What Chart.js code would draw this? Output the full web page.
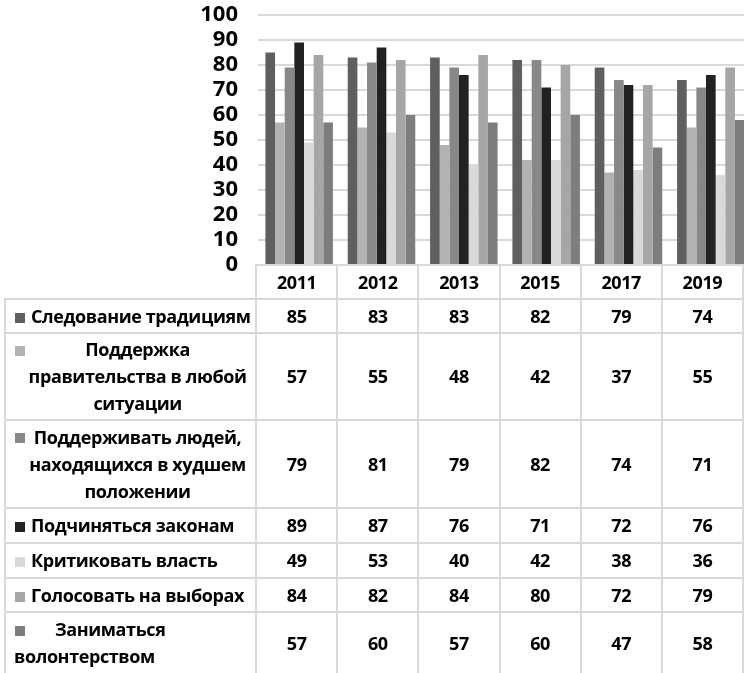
<!DOCTYPE html>
<html>
<head>
<meta charset="utf-8">
<script src="https://cdn.jsdelivr.net/npm/chart.js@4"></script>
<style>
  html, body { margin: 0; padding: 0; background: #fff; overflow: hidden; width: 744px; height: 673px; }
  #wrap { position: relative; width: 744px; height: 673px; overflow: hidden; }
  #chart-main { position: absolute; left: 0; top: -16px; }
  #data-table {
    position: absolute; left: 4px; top: 264px;
    border-collapse: collapse; table-layout: fixed;
    font-family: "Open Sans", sans-serif; font-weight: 700; font-size: 18px; color: #000;
    letter-spacing: -0.4px;
  }
  #data-table td { border: 2px solid #d9d9d9; text-align: center; padding: 0; line-height: 27px; }
  #data-table td.blank { border: none; border-bottom: 2px solid #d9d9d9; }
  #data-table td.label { position: relative; padding: 0 4px 0 8px; }
  #data-table td.label.left { text-align: left; }
  #data-table td.label.center { padding-left: 18px; }
  .swatch { display: inline-block; width: 10px; height: 10px; margin-right: 6px; margin-left: 1px; vertical-align: 0px; }
  .swatch.abs { position: absolute; left: 9px; top: 12px; margin: 0; }
  .indent { display: inline-block; width: 24px; }
</style>
</head>
<body>
<div id="wrap">
  <canvas id="chart-main" width="752" height="312"></canvas>
  <table id="data-table"></table>
</div>
<script>
const years = ["2011", "2012", "2013", "2015", "2017", "2019"];
const seriesNames = [
  "Следование традициям",
  "Поддержка правительства в любой ситуации",
  "Поддерживать людей, находящихся в худшем положении",
  "Подчиняться законам",
  "Критиковать власть",
  "Голосовать на выборах",
  "Заниматься волонтерством",
];
const traditions = [85, 83, 83, 82, 79, 74];
const govSupport = [57, 55, 48, 42, 37, 55];
const helpPeople = [79, 81, 79, 82, 74, 71];
const obeyLaws = [89, 87, 76, 71, 72, 76];
const criticize = [49, 53, 40, 42, 38, 36];
const vote = [84, 82, 84, 80, 72, 79];
const volunteer = [57, 60, 57, 60, 47, 58];
const seriesValues = [traditions, govSupport, helpPeople, obeyLaws, criticize, vote, volunteer];
const seriesColors = ["#5f5f5f", "#b2b2b2", "#888888", "#222222", "#d9d9d9", "#a6a6a6", "#7d7d7d"];
const yTicks = [0, 10, 20, 30, 40, 50, 60, 70, 80, 90, 100];

// how each legend label wraps inside the table
const labelLines = [
  ["Следование традициям"],
  ["Поддержка", "правительства в любой", "ситуации"],
  ["Поддерживать людей,", "находящихся в худшем", "положении"],
  ["Подчиняться законам"],
  ["Критиковать власть"],
  ["Голосовать на выборах"],
  ["Заниматься", "волонтерством"],
];
const rowHeights = [34, 87, 88, 35, 35, 34, 62];
const labelAlign = ["left", "center", "center", "left", "left", "left", "left"];

const mainChart = new Chart(document.getElementById("chart-main"), {
  type: "bar",
  data: {
    labels: years,
    datasets: seriesNames.map((name, i) => ({
      label: name,
      data: seriesValues[i],
      backgroundColor: seriesColors[i],
      borderWidth: 0,
      categoryPercentage: 0.82,
      barPercentage: 1,
    })),
  },
  options: {
    responsive: false,
    animation: false,
    layout: { padding: 0 },
    plugins: { legend: { display: false }, tooltip: { enabled: false } },
    scales: {
      x: { display: false, offset: true },
      y: {
        min: 0,
        max: 100,
        afterFit: (s) => { s.width = 258; },
        afterBuildTicks: (s) => { s.ticks = yTicks.map((v) => ({ value: v })); },
        border: { display: false },
        grid: { color: "#d9d9d9", lineWidth: 2, drawTicks: false },
        ticks: {
          color: "#000",
          padding: 20,
          font: { family: "Open Sans", weight: "bold", size: 22, lineHeight: 1 },
        },
      },
    },
  },
});

function renderTable() {
  const table = document.getElementById("data-table");
  let html = '<colgroup><col style="width:254px">' + years.map(() => '<col style="width:82.4px">').join("") + "</colgroup>";
  html += '<tr style="height:34px"><td class="blank"></td>' + years.map((y) => `<td>${y}</td>`).join("") + "</tr>";
  seriesNames.forEach((name, i) => {
    const align = labelAlign[i];
    let label;
    if (align === "center") {
      label = `<span class="swatch abs" style="background:${seriesColors[i]}"></span>${labelLines[i].join("<br>")}`;
    } else {
      const first = labelLines[i][0];
      const rest = labelLines[i].slice(1);
      const indent = rest.length ? '<span class="indent"></span>' : "";
      label = `<span class="swatch" style="background:${seriesColors[i]}"></span>${indent}${first}` + rest.map((l) => `<br>${l}`).join("");
    }
    html += `<tr style="height:${rowHeights[i]}px"><td class="label ${align}">${label}</td>`;
    html += seriesValues[i].map((v) => `<td>${v}</td>`).join("") + "</tr>";
  });
  table.innerHTML = html;
}
renderTable();
</script>
</body>
</html>
